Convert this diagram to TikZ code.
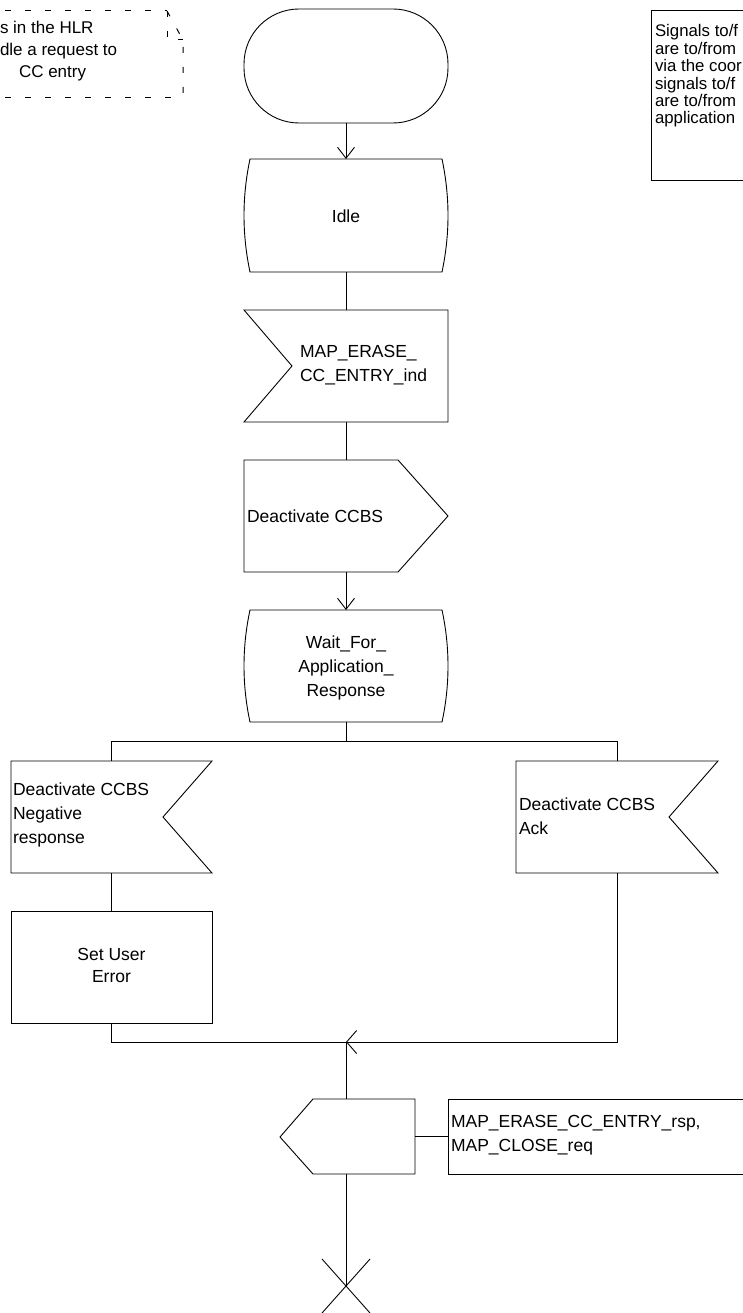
\documentclass[tikz,border=0pt]{standalone}
\usepackage{fontspec}
\setmainfont{Liberation Sans}
\usetikzlibrary{arrows.meta,calc}
\begin{document}
\begin{tikzpicture}[x=1pt,y=-1pt,
  line width=0.9pt,
  every node/.style={inner sep=0pt, outer sep=0pt},
  shp/.style={draw=none, minimum width=204pt, minimum height=113pt},
  lbl/.style={font=\fontsize{17.5}{24}\selectfont, align=left, anchor=west},
  clbl/.style={font=\fontsize{17.5}{24}\selectfont, align=center},
  arr/.style={-{Straight Barb[length=11pt,width=17pt]}},
  marr/.style={-{Straight Barb[length=10pt,width=23pt]}},
  dashy/.style={line width=1pt, dash pattern=on 6pt off 14pt},
]
\clip (0,0) rectangle (743,1313);

% top-left text symbol (dashed)
\draw[dashy] (5,11) -- (167,11);
\draw[dashy] (167,11) -- (183,40) -- (183,98);
\draw[dashy] (5,98) -- (183,98);
\draw[dashy] (167,11) -- (167,40) -- (183,40);
\node[font=\fontsize{17}{22}\selectfont, align=left, anchor=west] (hdr) at (0,51)
  {s in the HLR\\dle a request to\\\hspace*{19pt}CC entry};

% top-right note
\node[draw, anchor=north west, minimum width=150pt, minimum height=170pt] (note) at (651,10) {};
\node[font=\fontsize{16.8}{17.4}\selectfont, align=left, anchor=west] (notet) at (655,76)
  {Signals to/f\\are to/from\\via the coor\\signals to/f\\are to/from\\application};

% start
\node[draw, rounded corners=55pt, minimum width=204pt, minimum height=114pt] (start) at (346,66) {};

% Idle state
\node[shp] (idle) at (346,215.5) {};
\draw (250,159) -- (442,159) .. controls (450,197) and (450,234) .. (442,272)
  -- (250,272) .. controls (242,234) and (242,197) .. (250,159) -- cycle;
\node[clbl] (idlet) at (346,216) {Idle};

% input MAP_ERASE_CC_ENTRY_ind
\node[shp, minimum height=112pt] (inp1) at (346,366) {};
\draw (244,310) -- (448,310) -- (448,422) -- (244,422) -- (292,366) -- cycle;
\node[lbl] (inp1t) at (300,365) {MAP\_ERASE\_\\CC\_ENTRY\_ind};

% output Deactivate CCBS
\node[shp, minimum height=112pt] (out1) at (346,516) {};
\draw (244,460) -- (398,460) -- (448,516) -- (398,572) -- (244,572) -- cycle;
\node[lbl] (out1t) at (247,516) {Deactivate CCBS};

% Wait state
\node[shp, minimum height=112pt] (wait) at (346,666) {};
\draw (250,610) -- (442,610) .. controls (450,647) and (450,685) .. (442,722)
  -- (250,722) .. controls (242,685) and (242,647) .. (250,610) -- cycle;
\node[clbl] (waitt) at (346,668) {Wait\_For\_\\Application\_\\Response};

% left input
\node[draw=none, minimum width=201pt, minimum height=112pt] (inp2) at (111.5,817) {};
\draw (11,761) -- (212,761) -- (163,817) -- (212,873) -- (11,873) -- cycle;
\node[lbl] (inp2t) at (13,815) {Deactivate CCBS\\Negative\\response};

% right input
\node[draw=none, minimum width=202pt, minimum height=112pt] (inp3) at (617,817) {};
\draw (516,761) -- (718,761) -- (669,817) -- (718,873) -- (516,873) -- cycle;
\node[lbl] (inp3t) at (519,816) {Deactivate CCBS\\Ack};

% task
\node[draw, minimum width=201pt, minimum height=112pt] (task) at (111.5,967) {};
\node[font=\fontsize{17.5}{22}\selectfont, align=center] (taskt) at (111.5,965) {Set User\\Error};

% output MAP_ERASE_CC_ENTRY_rsp
\node[draw=none, minimum width=138pt, minimum height=75pt] (out2) at (346,1136.5) {};
\draw (313,1099) -- (415,1099) -- (415,1174) -- (313,1174) -- (280,1137) -- cycle;
\node[draw, anchor=north west, minimum width=330pt, minimum height=75pt] (cmt) at (448,1099) {};
\node[lbl] (cmtt) at (451,1135) {MAP\_ERASE\_CC\_ENTRY\_rsp,\\MAP\_CLOSE\_req};

% stop
\node (stop) at (346,1286) {};
\draw ($(stop)+(-24,-27)$) -- ($(stop)+(24,27)$);
\draw ($(stop)+(-24,27)$) -- ($(stop)+(24,-27)$);

% connectors
\coordinate (b) at (346,741);
\coordinate (j) at (346,1042);
\draw[arr] (start.south) -- (idle.north);
\draw (idle.south) -- (inp1.north);
\draw (inp1.south) -- (out1.north);
\draw[arr] (out1.south) -- (wait.north);
\draw (wait.south) -- (b);
\draw (b) -| (inp2.north);
\draw (b) -| (inp3.north);
\draw (inp2.south) -- (task.north);
\draw (task.south) |- (j);
\draw[marr] (inp3.south) |- (j);
\draw (j) -- (out2.north);
\draw (out2.east) -- (cmt.west);
\draw (out2.south) -- (stop.center);
\end{tikzpicture}
\end{document}
